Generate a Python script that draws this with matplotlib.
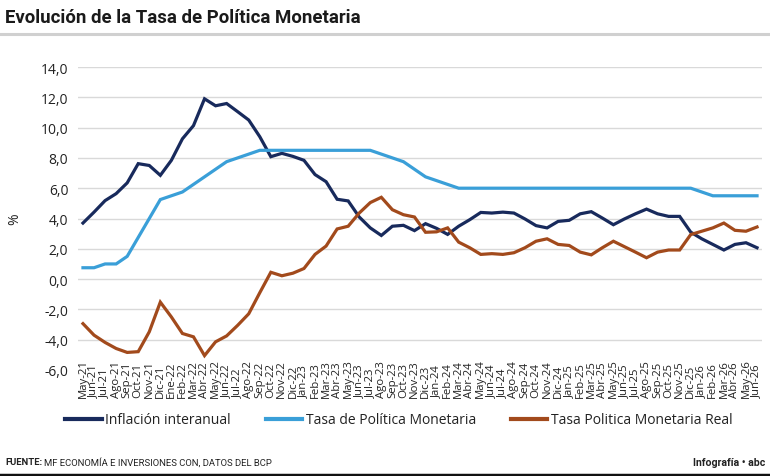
import matplotlib
matplotlib.use("Agg")
import matplotlib.pyplot as plt
from matplotlib.lines import Line2D
import matplotlib.font_manager as fm

months = ["May-21", "Jun-21", "Jul-21", "Ago-21", "Sep-21", "Oct-21", "Nov-21", "Dic-21",
          "Ene-22", "Feb-22", "Mar-22", "Abr-22", "May-22", "Jun-22", "Jul-22", "Ago-22",
          "Sep-22", "Oct-22", "Nov-22", "Dic-22", "Jan-23", "Feb-23", "Mar-23", "Abr-23",
          "May-23", "Jun-23", "Jul-23", "Ago-23", "Sep-23", "Oct-23", "Nov-23", "Dic-23",
          "Jan-24", "Feb-24", "Mar-24", "Abr-24", "May-24", "Jun-24", "Jul-24", "Ago-24",
          "Sep-24", "Oct-24", "Nov-24", "Dic-24", "Jan-25", "Feb-25", "Mar-25", "Abr-25",
          "May-25", "Jun-25", "Jul-25", "Ago-25", "Sep-25", "Oct-25", "Nov-25", "Dic-25",
          "Jan-26", "Feb-26", "Mar-26", "Abr-26", "May-26", "Jun-26"]

inflacion = [3.70, 4.42, 5.18, 5.64, 6.35, 7.62, 7.50, 6.85, 7.84, 9.26,
             10.13, 11.90, 11.44, 11.59, 11.05, 10.50, 9.40, 8.08, 8.30, 8.10,
             7.84, 6.90, 6.43, 5.27, 5.16, 4.10, 3.38, 2.88, 3.49, 3.55,
             3.20, 3.66, 3.35, 2.95, 3.49, 3.92, 4.40, 4.36, 4.42, 4.36,
             3.97, 3.53, 3.38, 3.81, 3.88, 4.31, 4.45, 4.03, 3.59, 3.97,
             4.31, 4.62, 4.31, 4.14, 4.14, 3.10, 2.66, 2.29, 1.92, 2.29,
             2.40, 2.07]

tpm = [0.75, 0.75, 1.00, 1.00, 1.50, 2.75, 4.00, 5.25, 5.50, 5.75,
       6.25, 6.75, 7.25, 7.75, 8.00, 8.25, 8.50, 8.50, 8.50, 8.50,
       8.50, 8.50, 8.50, 8.50, 8.50, 8.50, 8.50, 8.25, 8.00, 7.75,
       7.25, 6.75, 6.50, 6.25, 6.00, 6.00, 6.00, 6.00, 6.00, 6.00,
       6.00, 6.00, 6.00, 6.00, 6.00, 6.00, 6.00, 6.00, 6.00, 6.00,
       6.00, 6.00, 6.00, 6.00, 6.00, 6.00, 5.75, 5.50, 5.50, 5.50,
       5.50, 5.50]

tpm_real = [-2.94, -3.70, -4.18, -4.58, -4.84, -4.79, -3.48, -1.52, -2.50, -3.59,
            -3.81, -5.05, -4.14, -3.75, -3.05, -2.29, -0.90, 0.45, 0.22, 0.39,
            0.70, 1.63, 2.18, 3.31, 3.49, 4.36, 5.05, 5.40, 4.58, 4.25,
            4.10, 3.09, 3.12, 3.38, 2.44, 2.07, 1.63, 1.68, 1.63, 1.74,
            2.07, 2.50, 2.66, 2.29, 2.22, 1.78, 1.60, 2.07, 2.50, 2.14,
            1.78, 1.41, 1.78, 1.92, 1.92, 2.94, 3.16, 3.38, 3.70, 3.22,
            3.16, 3.44]

yticks = [-6, -4, -2, 0, 2, 4, 6, 8, 10, 12, 14]
ytick_labels = ["-6,0", "-4,0", "-2,0", "0,0", "2,0", "4,0", "6,0", "8,0", "10,0", "12,0", "14,0"]

series_names = ["Inflación interanual", "Tasa de Política Monetaria", "Tasa Politica Monetaria Real"]
colors = ["#182a5c", "#3a9fd8", "#a24a1c"]

names = {f.name for f in fm.fontManager.ttflist}
narrow = "Liberation Sans Narrow" if "Liberation Sans Narrow" in names else "Roboto"
body = "Open Sans"

W, H = 770, 477
fig = plt.figure(figsize=(W / 100, H / 100), dpi=100)
fig.patch.set_facecolor("white")

left, right, top, bottom = 78, 762, 68, 371
ax = fig.add_axes([left / W, 1 - bottom / H, (right - left) / W, (bottom - top) / H])

x = list(range(len(months)))
for vals, c, n in zip([inflacion, tpm, tpm_real], colors, series_names):
    ax.plot(x, vals, color=c, lw=2.3, label=n, solid_joinstyle="miter", zorder=3)

ax.set_xlim(-0.45, len(months) - 1 + 0.45)
ax.set_ylim(-6, 14)
ax.set_yticks(yticks)
ax.set_yticklabels(ytick_labels, fontsize=10, family=body, color="#222222")
ax.set_xticks(x)
ax.set_xticklabels(months, rotation=90, fontsize=8.2, family=body, color="#222222")
for lab in ax.get_xticklabels():
    lab.set_va("bottom")
    lab.set_ha("center")
ax.tick_params(axis="x", length=0, pad=19.5)
ax.tick_params(axis="y", length=0, pad=7)
ax.grid(axis="y", color="#d9d9d9", lw=1.0, zorder=0)
ax.get_ygridlines()[0].set_visible(False)
for s in ax.spines.values():
    s.set_visible(False)
ax.set_ylabel("%", fontsize=10, family=body, color="#222222")
ax.yaxis.set_label_coords((22 - left) / (right - left), 0.5)

leg = fig.legend(loc="center", bbox_to_anchor=(399 / W, 1 - 421 / H), ncol=3, frameon=False,
                 prop={"family": body, "size": 10}, handlelength=2.6, handletextpad=0.25,
                 columnspacing=2.55)
for l in leg.get_lines():
    l.set_linewidth(3.0)
for t in leg.get_texts():
    t.set_color("#222222")

# title and rules
fig.text(5 / W, 1 - 18 / H, "Evolución de la Tasa de Política Monetaria", fontsize=13.4,
         fontweight="bold", family=narrow, va="center", ha="left", color="#1a1a1a")
fig.add_artist(Line2D([0, 1], [1 - 35 / H, 1 - 35 / H], color="#d0d0d0", lw=2.2))
fig.add_artist(Line2D([0, 1], [1 - 475.5 / H, 1 - 475.5 / H], color="#111111", lw=2.5))

# footer
t1 = fig.text(5 / W, 1 - 463 / H, "FUENTE:", fontsize=6.8, fontweight="bold", family=narrow,
              va="center", ha="left", color="#222222")
fig.canvas.draw()
bb = t1.get_window_extent()
fig.text((bb.x1 + 2) / W, 1 - 463 / H, "MF ECONOMÍA E INVERSIONES CON, DATOS DEL BCP", fontsize=6.8,
         family=narrow, va="center", ha="left", color="#222222")
fig.text(765 / W, 1 - 463 / H, "Infografía • abc", fontsize=7.6, fontweight="bold", family=narrow,
         va="center", ha="right", color="#222222")

fig.savefig("out.png", dpi=100, facecolor="white")
